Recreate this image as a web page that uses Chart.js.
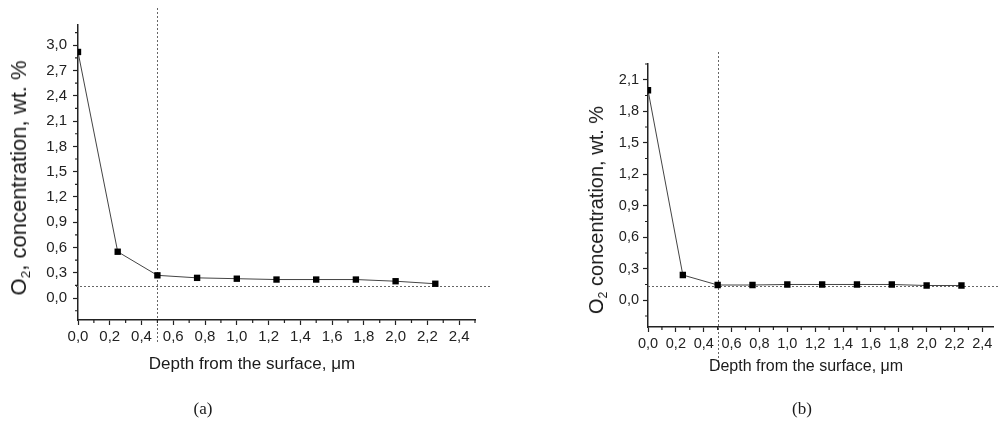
<!DOCTYPE html>
<html lang="en">
  <head>
    <meta charset="utf-8" />
    <title>O2 concentration vs depth</title>
    <style>
      body {
        margin: 0;
        width: 998px;
        height: 424px;
        position: relative;
        overflow: hidden;
        background: #fff;
        font-family: Arial, 'Liberation Sans', sans-serif;
        color: #1a1a1a;
      }
      canvas { position: absolute; top: 0; }
      .lbl { position: absolute; white-space: nowrap; transform: translate(-50%, -50%); line-height: 1; }
      .ytitle { transform: translate(-50%, -50%) rotate(-90deg); }
      .cap { font-family: 'Liberation Serif', 'Times New Roman', serif; font-size: 17px; }
      sub { font-size: 0.62em; vertical-align: -0.3em; line-height: 0; }
    </style>
  </head>
  <body>
    <canvas id="chartA" width="500" height="424" style="left: 0"></canvas>
    <canvas id="chartB" width="438" height="424" style="left: 560px"></canvas>

    <div class="lbl ytitle" style="left: 19px; top: 178px; font-size: 22px">O<sub>2</sub>, concentration, wt. %</div>
    <div class="lbl" style="left: 252px; top: 363px; font-size: 17px">Depth from the surface, μm</div>
    <div class="lbl cap" style="left: 203px; top: 408px">(a)</div>

    <div class="lbl ytitle" style="left: 596px; top: 210px; font-size: 20px">O<sub>2</sub> concentration, wt. %</div>
    <div class="lbl" style="left: 806px; top: 366px; font-size: 16px">Depth from the surface, μm</div>
    <div class="lbl cap" style="left: 802px; top: 408px">(b)</div>

    <script src="https://cdn.jsdelivr.net/npm/chart.js@4.4.1/dist/chart.umd.min.js"></script>
    <script>
      // depth points, um
      const depth = [0, 0.25, 0.5, 0.75, 1.0, 1.25, 1.5, 1.75, 2.0, 2.25];
      // O2 concentration, wt. %
      const o2A = [2.92, 0.55, 0.27, 0.24, 0.23, 0.22, 0.22, 0.22, 0.2, 0.17];
      const o2B = [2.0, 0.24, 0.145, 0.145, 0.15, 0.15, 0.15, 0.15, 0.14, 0.14];

      const xTicks = [0, 0.2, 0.4, 0.6, 0.8, 1.0, 1.2, 1.4, 1.6, 1.8, 2.0, 2.2, 2.4];
      const yTicksA = [0, 0.3, 0.6, 0.9, 1.2, 1.5, 1.8, 2.1, 2.4, 2.7, 3.0];
      const yTicksB = [0, 0.3, 0.6, 0.9, 1.2, 1.5, 1.8, 2.1];

      // dotted guide lines
      const boundaryDepth = 0.5;
      const levelA = 0.14;
      const levelB = 0.14;

      const fmt = (v) => Number(v).toFixed(1).replace('.', ',');

      // short minor ticks between the labelled ones
      const minorTicks = {
        id: 'minorTicks',
        afterDraw(chart, args, opts) {
          const { ctx } = chart;
          const xs = chart.scales.x;
          const ys = chart.scales.y;
          ctx.save();
          ctx.strokeStyle = '#222';
          ctx.lineWidth = 1.2;
          ctx.beginPath();
          for (let i = 0; ; i++) {
            const v = opts.xStart + i * opts.xStep;
            if (v > xs.max + 1e-9) break;
            const px = xs.getPixelForValue(v);
            ctx.moveTo(px, xs.top);
            ctx.lineTo(px, xs.top + opts.len);
          }
          for (let i = 0; ; i++) {
            const v = opts.yStart + i * opts.yStep;
            if (v > ys.max + 1e-9) break;
            if (v < ys.min - 1e-9) continue;
            const py = ys.getPixelForValue(v);
            ctx.moveTo(ys.right, py);
            ctx.lineTo(ys.right - opts.len, py);
          }
          ctx.stroke();
          ctx.restore();
        },
      };

      const guideLines = {
        id: 'guideLines',
        beforeDatasetsDraw(chart, args, opts) {
          const { ctx } = chart;
          const px = chart.scales.x.getPixelForValue(opts.x);
          const py = chart.scales.y.getPixelForValue(opts.y);
          ctx.save();
          ctx.strokeStyle = '#666';
          ctx.lineWidth = 1;
          ctx.setLineDash([2, 2]);
          ctx.beginPath();
          ctx.moveTo(Math.round(px) + 0.5, opts.vFrom);
          ctx.lineTo(Math.round(px) + 0.5, opts.vTo);
          ctx.moveTo(opts.hFrom, Math.round(py) + 0.5);
          ctx.lineTo(opts.hTo, Math.round(py) + 0.5);
          ctx.stroke();
          ctx.restore();
        },
      };

      function makeChart(id, values, yTicks, cfg) {
        const tickFont = { family: 'Arial, "Liberation Sans", sans-serif', size: cfg.fontSize };
        const axisGrid = { drawOnChartArea: false, tickLength: 5, tickColor: '#222', tickWidth: 1.2 };
        return new Chart(document.getElementById(id), {
          type: 'line',
          data: {
            datasets: [
              {
                data: depth.map((d, i) => ({ x: d, y: values[i] })),
                borderColor: '#444',
                borderWidth: 1,
                pointStyle: 'rect',
                pointRadius: 4.5,
                pointBackgroundColor: '#000',
                pointBorderWidth: 0,
                clip: 0,
              },
            ],
          },
          options: {
            responsive: false,
            animation: false,
            layout: { padding: cfg.padding },
            plugins: {
              legend: { display: false },
              tooltip: { enabled: false },
              minorTicks: { xStart: 0.1, xStep: 0.2, yStart: -0.15, yStep: 0.3, len: 3 },
              guideLines: cfg.guides,
            },
            scales: {
              x: {
                type: 'linear',
                min: 0,
                max: cfg.xMax,
                afterBuildTicks: (s) => { s.ticks = xTicks.map((v) => ({ value: v })); },
                afterFit: (s) => { s.height = cfg.xHeight; },
                ticks: { autoSkip: false, maxRotation: 0, padding: 3, color: '#222', font: tickFont, callback: fmt },
                grid: axisGrid,
                border: { color: '#222', width: 1.5 },
              },
              y: {
                type: 'linear',
                min: cfg.yMin,
                max: cfg.yMax,
                afterBuildTicks: (s) => { s.ticks = yTicks.map((v) => ({ value: v })); },
                afterFit: (s) => { s.width = cfg.yWidth; },
                ticks: { padding: cfg.yPad, color: '#222', font: tickFont, callback: fmt },
                grid: axisGrid,
                border: { color: '#222', width: 1.5 },
              },
            },
          },
          plugins: [minorTicks, guideLines],
        });
      }

      makeChart('chartA', o2A, yTicksA, {
        fontSize: 15,
        padding: { top: 25, right: 25, left: 0, bottom: 0 },
        xMax: 2.5,
        yMin: -0.26,
        yMax: 3.24,
        xHeight: 104,
        yWidth: 78,
        yPad: 6,
        guides: { x: boundaryDepth, y: levelA, vFrom: 8, vTo: 343, hFrom: 76, hTo: 490 },
      });

      makeChart('chartB', o2B, yTicksB, {
        fontSize: 14.5,
        padding: { top: 64, right: 0, left: 0, bottom: 0 },
        xMax: 2.48,
        yMin: -0.255,
        yMax: 2.25,
        xHeight: 97,
        yWidth: 88,
        yPad: 4,
        guides: { x: boundaryDepth, y: levelB, vFrom: 52, vTo: 370, hFrom: 88, hTo: 438 },
      });
    </script>
  </body>
</html>
